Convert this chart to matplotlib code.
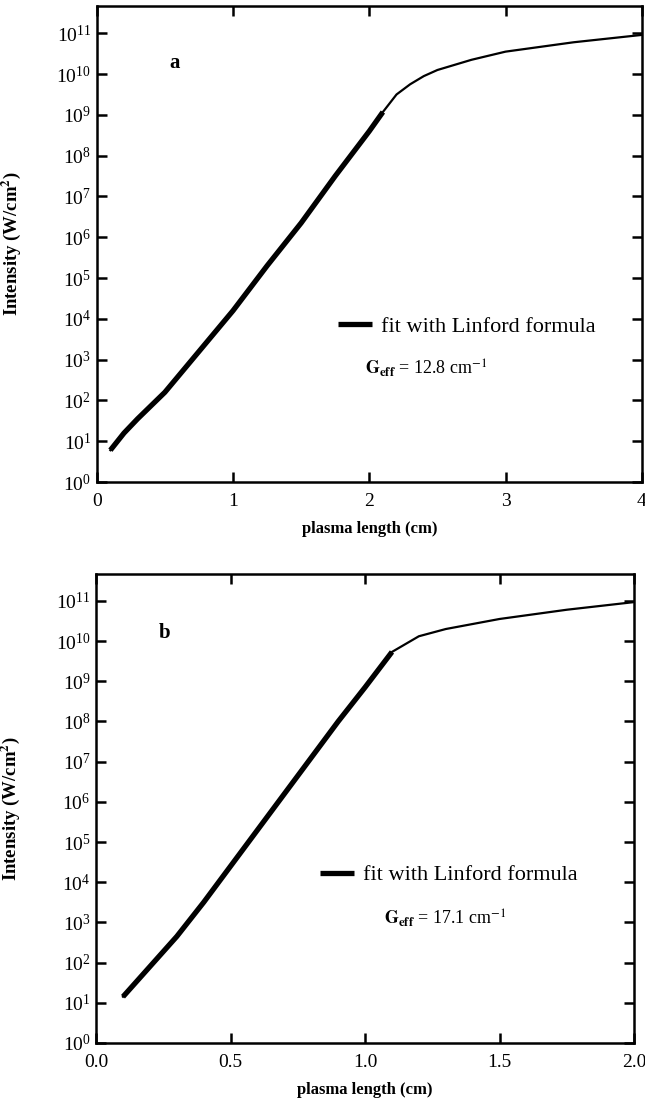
import numpy as np
import matplotlib.pyplot as plt
from matplotlib.ticker import LogLocator, LogFormatterMathtext, FixedLocator

plt.rcParams['font.family'] = ['Liberation Serif', 'DejaVu Serif']
plt.rcParams['mathtext.fontset'] = 'stix'

# panel a: measured intensity vs plasma length (log10 of W/cm^2)
len_a = [0.1, 0.2, 0.3, 0.5, 0.75, 1.0, 1.25, 1.5, 1.75, 2.0, 2.1,
         2.2, 2.3, 2.4, 2.5, 2.75, 3.0, 3.5, 4.0]
logI_a = [0.78, 1.2, 1.55, 2.2, 3.2, 4.2, 5.3, 6.35, 7.5, 8.6, 9.07,
          9.5, 9.75, 9.95, 10.1, 10.35, 10.55, 10.78, 10.96]
# Linford fit (thick) for panel a
fit_len_a = [0.1, 0.2, 0.3, 0.5, 0.75, 1.0, 1.25, 1.5, 1.75, 2.0, 2.1]
fit_logI_a = [0.78, 1.2, 1.55, 2.2, 3.2, 4.2, 5.3, 6.35, 7.5, 8.6, 9.07]

# panel b
len_b = [0.1, 0.2, 0.3, 0.4, 0.5, 0.6, 0.7, 0.8, 0.9, 1.0, 1.1,
         1.2, 1.3, 1.5, 1.75, 2.0]
logI_b = [1.15, 1.9, 2.65, 3.5, 4.4, 5.3, 6.2, 7.1, 8.0, 8.85, 9.73,
          10.12, 10.3, 10.55, 10.78, 10.97]
fit_len_b = [0.1, 0.2, 0.3, 0.4, 0.5, 0.6, 0.7, 0.8, 0.9, 1.0, 1.1]
fit_logI_b = [1.15, 1.9, 2.65, 3.5, 4.4, 5.3, 6.2, 7.1, 8.0, 8.85, 9.73]

fig = plt.figure(figsize=(6.45, 11.04), dpi=100)
ax_a = fig.add_axes([0.150, 0.5634, 0.845, 0.4312])
ax_b = fig.add_axes([0.149, 0.0553, 0.834, 0.4248])


def style(ax, xmax, xticks, xlabels):
    ax.set_yscale('log')
    ax.set_ylim(1, 10 ** 11.67)
    ax.set_xlim(0, xmax)
    ax.yaxis.set_major_locator(LogLocator(base=10, numticks=20))
    ax.yaxis.set_minor_locator(plt.NullLocator())
    ax.yaxis.set_major_formatter(LogFormatterMathtext())
    ax.xaxis.set_major_locator(FixedLocator(xticks))
    ax.set_xticklabels(xlabels)
    ax.tick_params(direction='in', length=7, width=1.8, top=True, right=True,
                   labelsize=14)
    ax.tick_params(axis='x', pad=8)
    ax.tick_params(axis='y', pad=4)
    for s in ax.spines.values():
        s.set_linewidth(1.8)
    ax.set_xlabel('plasma length (cm)', fontsize=12, fontweight='bold', labelpad=8)
    ax.set_ylabel('Intensity (W/cm$^\\mathbf{2}$)', fontsize=13.5, fontweight='bold', labelpad=24)


style(ax_a, 4, [0, 1, 2, 3, 4], ['0', '1', '2', '3', '4'])
style(ax_b, 2, [0, 0.5, 1.0, 1.5, 2.0], ['0.0', '0.5', '1.0', '1.5', '2.0'])

ax_a.plot(len_a, 10 ** np.array(logI_a), color='black', lw=1.6)
ax_a.plot(fit_len_a, 10 ** np.array(fit_logI_a), color='black', lw=3.8,
          solid_capstyle='butt', label='fit with Linford formula')
ax_b.plot(len_b, 10 ** np.array(logI_b), color='black', lw=1.6)
ax_b.plot(fit_len_b, 10 ** np.array(fit_logI_b), color='black', lw=3.8,
          solid_capstyle='butt', label='fit with Linford formula')

ax_a.text(0.143, 0.88, 'a', transform=ax_a.transAxes, fontsize=15,
          fontweight='bold', ha='center', va='center')
ax_b.text(0.128, 0.875, 'b', transform=ax_b.transAxes, fontsize=15,
          fontweight='bold', ha='center', va='center')

leg_kw = dict(frameon=False, fontsize=16, handlelength=1.55, handletextpad=0.4,
              borderpad=0, borderaxespad=0)
ax_a.legend(loc='center left', bbox_to_anchor=(0.442, 0.327), **leg_kw)
ax_b.legend(loc='center left', bbox_to_anchor=(0.416, 0.358), **leg_kw)

ax_a.text(0.492, 0.24, '$\\mathbf{G_{eff}}$ = 12.8 cm$^{-1}$', transform=ax_a.transAxes,
          fontsize=13, ha='left', va='center')
ax_b.text(0.535, 0.266, '$\\mathbf{G_{eff}}$ = 17.1 cm$^{-1}$', transform=ax_b.transAxes,
          fontsize=13, ha='left', va='center')

fig.savefig('out.png', dpi=100)
